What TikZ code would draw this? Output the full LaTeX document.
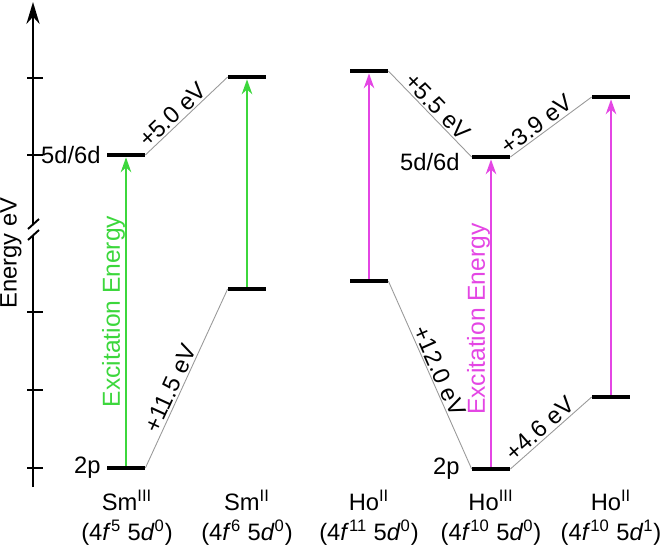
\documentclass[tikz,border=0pt]{standalone}
\usepackage{fontspec}
\setmainfont{Liberation Sans}
\usetikzlibrary{arrows.meta,positioning}
\definecolor{excgreen}{RGB}{60,215,60}
\definecolor{excpink}{RGB}{228,70,228}

\begin{document}
\begin{tikzpicture}[x=0.02cm, y=-0.02cm,
    font=\fontsize{13.5}{17}\selectfont,
    level/.style={fill=black, minimum width=0.76cm, minimum height=0.08cm, inner sep=0pt},
    lvlname/.style={inner sep=1pt},
    link/.style={draw=black!40, line width=0.5pt},
    gap/.style={inner sep=1pt},
    excite/.style={line width=1.1pt, -{Stealth[length=8.5pt,width=6pt]}},
    exctext/.style={font=\fontsize{14}{17}\selectfont, inner sep=0pt},
    tick/.style={line width=1.1pt},
    ion/.style={align=center, inner sep=1pt}]
	\useasboundingbox (0,0) rectangle (661,545);

	\coordinate (axbot) at (33,487);
	\coordinate (brklo) at (33,236);
	\coordinate (brkhi) at (33,225);
	\coordinate (axtop) at (33,2);
	\draw[tick] (axbot) -- (brklo);
	\draw[tick, -{Stealth[length=12.5pt,width=7.5pt]}] (brkhi) -- (axtop);
	\foreach \ty in {78,155,312,390,468}
		\draw[tick] (27,\ty) -- (43,\ty);
	\draw[tick] (28,229) -- (39,219);
	\draw[tick] (28,240) -- (39,230);
	\node[rotate=90] (axlabel) at (11,253) {Energy eV};

	\node[level] (smIIIup)  at (126,155) {};
	\node[level] (smIIIlow) at (126,468) {};
	\node[level] (smIIup)   at (247,77)  {};
	\node[level] (smIIlow)  at (247,289) {};
	\node[level] (hoIIaup)  at (369,71)  {};
	\node[level] (hoIIalow) at (369,281) {};
	\node[level] (hoIIIup)  at (491,157) {};
	\node[level] (hoIIIlow) at (491,469) {};
	\node[level] (hoIIbup)  at (611,97)  {};
	\node[level] (hoIIblow) at (611,397) {};

	\node[lvlname, left=0.08cm of smIIIup]  (smdd) {5d/6d};
	\node[lvlname, left=0.08cm of smIIIlow] (smpp) {2p};
	\node[lvlname, left=0.2cm of hoIIIup, yshift=-0.1cm] (hodd) {5d/6d};
	\node[lvlname, left=0.2cm of hoIIIlow] (hopp) {2p};

	\draw[link] (smIIIup.east)  -- node[gap, above, sloped, pos=0.42] {+5.0 eV}  (smIIup.west);
	\draw[link] (smIIIlow.east) -- node[gap, above, sloped, pos=0.42] {+11.5 eV} (smIIlow.west);
	\draw[link] (hoIIaup.east)  -- node[gap, above, sloped] {+5.5 eV}  (hoIIIup.west);
	\draw[link] (hoIIalow.east) -- node[gap, above, sloped] {+12.0 eV} (hoIIIlow.west);
	\draw[link] (hoIIIup.east)  -- node[gap, above, sloped, pos=0.4] {+3.9 eV}  (hoIIbup.west);
	\draw[link] (hoIIIlow.east) -- node[gap, above, sloped, pos=0.45] {+4.6 eV}  (hoIIblow.west);

	\draw[excite, excgreen] (smIIIlow) -- node[exctext, above, sloped] {Excitation Energy} (smIIIup.south);
	\draw[excite, excgreen] (smIIlow) -- (smIIup.south);
	\draw[excite, excpink] (hoIIalow) -- (hoIIaup.south);
	\draw[excite, excpink] (hoIIIlow) -- node[exctext, above, sloped, pos=0.48] {Excitation Energy} (hoIIIup.south);
	\draw[excite, excpink] (hoIIblow) -- (hoIIbup.south);

	\node[ion] (smIII) at (127,518) {Sm\textsuperscript{III}\\(4\textit{f}\textsuperscript{5} 5\textit{d}\textsuperscript{0})};
	\node[ion] (smII)  at (247,518) {Sm\textsuperscript{II}\\(4\textit{f}\textsuperscript{6} 5\textit{d}\textsuperscript{0})};
	\node[ion] (hoIIa) at (369,518) {Ho\textsuperscript{II}\\(4\textit{f}\textsuperscript{11} 5\textit{d}\textsuperscript{0})};
	\node[ion] (hoIII) at (491,518) {Ho\textsuperscript{III}\\(4\textit{f}\textsuperscript{10} 5\textit{d}\textsuperscript{0})};
	\node[ion] (hoIIb) at (611,518) {Ho\textsuperscript{II}\\(4\textit{f}\textsuperscript{10} 5\textit{d}\textsuperscript{1})};
\end{tikzpicture}
\end{document}
